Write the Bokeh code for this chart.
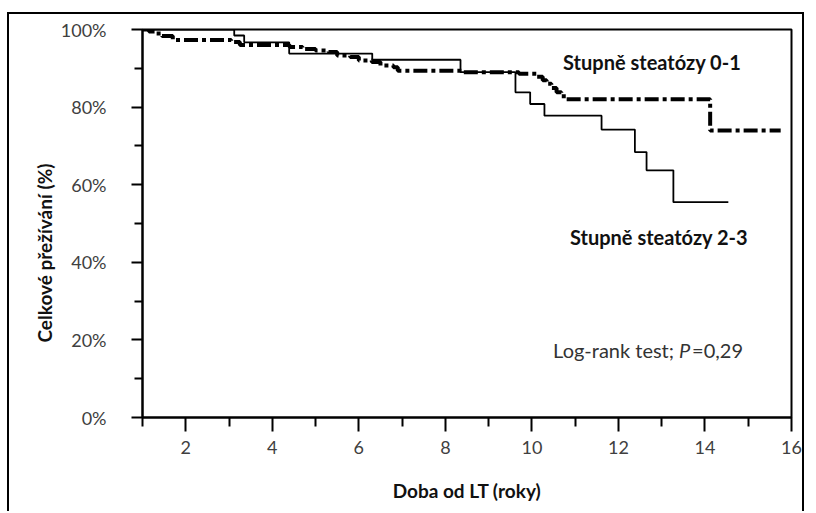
from bokeh.plotting import figure
from bokeh.models import Range1d, FixedTicker, PrintfTickFormatter, Label, Title
from bokeh.embed import file_html
from bokeh.resources import INLINE

# Kaplan-Meier estimates (time in years, survival in %)
t_grade01 = [1.0, 1.15, 1.3, 1.45, 1.7, 3.05, 3.25, 4.4, 4.7, 5.0, 5.3, 5.5, 5.8, 6.0, 6.3,
             6.5, 6.8, 6.9, 8.4, 9.7, 10.12, 10.25, 10.34, 10.45, 10.57, 10.68, 10.8, 14.12, 15.75]
s_grade01 = [100, 99.5, 99.0, 98.3, 97.3, 96.8, 96.0, 95.5, 95.0, 94.6, 94.2, 93.3, 92.9, 92.0, 91.6,
             90.7, 90.3, 89.4, 89.0, 88.6, 87.8, 86.9, 86.0, 84.9, 83.8, 82.8, 82.0, 74.0, 74.0]

t_grade23 = [1.0, 3.12, 3.35, 4.39, 6.31, 8.35, 9.62, 9.96, 10.29, 11.61, 12.38, 12.65, 13.27, 14.54]
s_grade23 = [100, 98.45, 96.7, 93.8, 92.2, 89.0, 83.8, 80.8, 77.8, 74.2, 68.4, 63.7, 55.5, 55.5]

x_major = [2, 4, 6, 8, 10, 12, 14, 16]
x_minor = [1, 3, 5, 7, 9, 11, 13, 15]
y_major = [0, 20, 40, 60, 80, 100]
y_minor = [10, 30, 50, 70, 90]

label_01 = "Stupně steatózy 0-1"
label_23 = "Stupně steatózy 2-3"
x_title = "Doba od LT (roky)"
y_title = "Celkové přežívání (%)"

FONT = "Lato"

p = figure(width=797, height=499, output_backend="svg", toolbar_location=None,
           x_range=Range1d(1, 16), y_range=Range1d(0, 100),
           min_border_left=133, min_border_right=15, min_border_top=15, min_border_bottom=96)
# outer frame of the picture (open at the bottom)
p.styles = {"margin-left": "7px", "margin-top": "12px",
            "border-left": "2px solid black", "border-top": "2px solid black",
            "border-right": "2px solid black"}

p.outline_line_color = "black"
p.outline_line_width = 2
p.xgrid.visible = False
p.ygrid.visible = False
p.background_fill_color = "white"
p.border_fill_color = "white"

for ax in (p.xaxis[0], p.yaxis[0]):
    ax.axis_line_color = "black"
    ax.axis_line_width = 2
    ax.major_tick_line_color = "black"
    ax.major_tick_line_width = 2
    ax.minor_tick_line_color = "black"
    ax.minor_tick_line_width = 2
    ax.major_tick_in = 0
    ax.minor_tick_in = 0
    ax.major_label_text_font = FONT
    ax.major_label_text_font_size = "18px"
    ax.major_label_text_color = "#404040"
    ax.axis_label_text_font = FONT
    ax.axis_label_text_font_style = "bold"
    ax.axis_label_text_font_size = "19px"
    ax.axis_label_text_color = "#111111"

p.xaxis.ticker = FixedTicker(ticks=x_major, minor_ticks=x_minor)
p.xaxis.major_tick_out = 14
p.xaxis.minor_tick_out = 9
p.xaxis.major_label_standoff = 9
p.xaxis.axis_label = x_title
p.xaxis.axis_label_standoff = 22

p.yaxis.ticker = FixedTicker(ticks=y_major, minor_ticks=y_minor)
p.yaxis.formatter = PrintfTickFormatter(format="%d%%")
p.yaxis.major_tick_out = 11
p.yaxis.minor_tick_out = 8
p.yaxis.major_label_standoff = 25

# y title as a side title so that it can sit below the frame centre as in the reference
p.add_layout(Title(text=y_title, align="left", offset=75, standoff=4, text_font=FONT,
                   text_font_style="bold", text_font_size="19px", text_color="#111111"),
             "left")

p.step(t_grade01, s_grade01, mode="after", line_color="black", line_width=4,
       line_dash="14 4 4 4")
p.step(t_grade23, s_grade23, mode="after", line_color="black", line_width=1.8)

p.add_layout(Label(x=10.72, y=91.5, text=label_01, text_font=FONT, text_font_style="bold",
                   text_font_size="20px", text_baseline="middle", text_align="left",
                   text_color="#111111"))
p.add_layout(Label(x=10.88, y=46.4, text=label_23, text_font=FONT, text_font_style="bold",
                   text_font_size="20px", text_baseline="middle", text_align="left",
                   text_color="#111111"))

lr_x, lr_y = 10.49, 17.3
p.add_layout(Label(x=lr_x, y=lr_y, text="Log-rank test;", text_font=FONT,
                   text_font_size="20px", text_baseline="middle", text_align="left",
                   text_color="#333333"))
p.add_layout(Label(x=lr_x, y=lr_y, x_offset=126, text="P", text_font=FONT, text_font_style="italic",
                   text_font_size="20px", text_baseline="middle", text_align="left",
                   text_color="#333333"))
p.add_layout(Label(x=lr_x, y=lr_y, x_offset=139, text="=0,29", text_font=FONT,
                   text_font_size="20px", text_baseline="middle", text_align="left",
                   text_color="#333333"))

open("out.html", "w").write(file_html(p, INLINE))
